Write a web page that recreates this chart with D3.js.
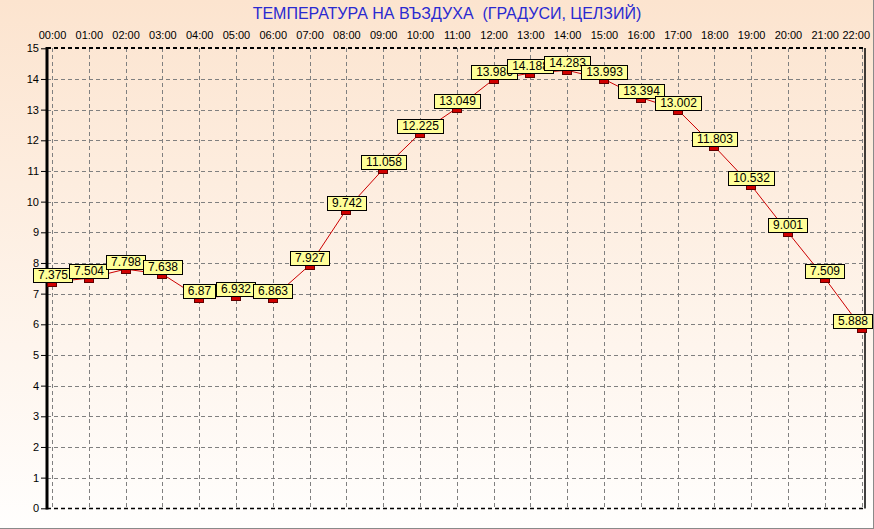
<!DOCTYPE html>
<html><head><meta charset="utf-8">
<script src="https://cdn.jsdelivr.net/npm/d3@7"></script>
<style>html,body{margin:0;padding:0;background:#fff;}svg{display:block;}</style>
</head><body>
<script>
const hours = ["00:00","01:00","02:00","03:00","04:00","05:00","06:00","07:00","08:00","09:00","10:00","11:00","12:00","13:00","14:00","15:00","16:00","17:00","18:00","19:00","20:00","21:00","22:00"];
const temps = [7.375,7.504,7.798,7.638,6.87,6.932,6.863,7.927,9.742,11.058,12.225,13.049,13.986,14.188,14.283,13.993,13.394,13.002,11.803,10.532,9.001,7.509,5.888];
const yTicks = [0,1,2,3,4,5,6,7,8,9,10,11,12,13,14,15];
const title = "ТЕМПЕРАТУРА НА ВЪЗДУХА  (ГРАДУСИ, ЦЕЛЗИЙ)";

const W = 874, H = 529;
const FONT = "Arial, 'Liberation Sans', sans-serif";
const svg = d3.select("body").append("svg").attr("width", W).attr("height", H);
const defs = svg.append("defs");
const g = defs.append("linearGradient").attr("id","bg").attr("x1",0).attr("y1",0).attr("x2",0).attr("y2",1);
g.append("stop").attr("offset","0%").attr("stop-color","#fce4cf");
g.append("stop").attr("offset","100%").attr("stop-color","#fffefd");
svg.append("rect").attr("width",W).attr("height",H).attr("fill","url(#bg)");
// outer frame
svg.append("line").attr("x1",873.5).attr("x2",873.5).attr("y1",0).attr("y2",529).attr("stroke","#8a8a8a");
svg.append("line").attr("x1",0).attr("x2",874).attr("y1",528.5).attr("y2",528.5).attr("stroke","#8a8a8a");

const plotL = 47, plotR = 865, plotT = 48, plotB = 508.5;
const x = d3.scaleLinear().domain([0,22]).range([52,861.5]);
const y = d3.scaleLinear().domain([0,15]).range([508.3,48.3]);

// grid
const grid = svg.append("g").attr("stroke","#808080").attr("stroke-dasharray","4,3").attr("stroke-width",1);
grid.selectAll(".v").data(hours).enter().append("line")
  .attr("x1",(d,i)=>Math.round(x(i))+0.5).attr("x2",(d,i)=>Math.round(x(i))+0.5)
  .attr("y1",plotT).attr("y2",plotB);
grid.selectAll(".h").data(yTicks.slice(1,-1)).enter().append("line")
  .attr("x1",plotL).attr("x2",plotR)
  .attr("y1",d=>Math.round(y(d))+0.5).attr("y2",d=>Math.round(y(d))+0.5);

// frame
svg.append("line").attr("x1",plotL).attr("x2",plotR).attr("y1",plotT).attr("y2",plotT)
  .attr("stroke","#000").attr("stroke-width",2).attr("stroke-dasharray","4,3");
svg.append("line").attr("x1",plotL).attr("x2",plotR).attr("y1",plotB).attr("y2",plotB)
  .attr("stroke","#000").attr("stroke-width",1.5).attr("stroke-dasharray","4,3");
svg.append("line").attr("x1",plotR).attr("x2",plotR).attr("y1",plotT).attr("y2",plotB)
  .attr("stroke","#000").attr("stroke-width",1.5);

// y axis
const yAxis = d3.axisLeft(y).tickValues(yTicks).tickSize(6).tickPadding(2).tickFormat(d3.format("d"));
const ya = svg.append("g").attr("transform",`translate(${plotL},0)`).call(yAxis);
ya.select(".domain").remove();
ya.selectAll("line").attr("stroke","#000");
ya.selectAll("text").attr("font-family",FONT).attr("font-size",11).attr("fill","#000");
svg.append("line").attr("x1",plotL).attr("x2",plotL).attr("y1",plotT-1).attr("y2",plotB+1)
  .attr("stroke","#000").attr("stroke-width",3);

// top axis labels
const xa = d3.axisTop(x).tickValues(d3.range(hours.length)).tickFormat(i=>hours[i]).tickSize(0).tickPadding(0);
const xg = svg.append("g").attr("transform","translate(0,39)").call(xa);
xg.select(".domain").remove();
xg.selectAll("text").attr("font-family",FONT).attr("font-size",11).attr("fill","#000").attr("dy",0)
  .each(function(){
    const t = d3.select(this);
    const w = this.getComputedTextLength();
    const tr = d3.select(this.parentNode).attr("transform");
    const tx = +tr.match(/translate\(([-\d.]+)/)[1];
    if (tx + w/2 > 870) t.attr("x", 870 - w/2 - tx);
  });

// title
svg.append("text").attr("x",447).attr("y",19).attr("text-anchor","middle")
  .attr("xml:space","preserve").style("white-space","pre")
  .attr("font-family",FONT).attr("font-size",16).attr("fill","#2a2ad0").text(title);

// line
svg.append("path").datum(temps)
  .attr("d", d3.line().x((d,i)=>x(i)).y(d=>y(d)))
  .attr("fill","none").attr("stroke","#cc0000").attr("stroke-width",1);

// markers
svg.selectAll(".mk").data(temps).enter().append("rect")
  .attr("x",(d,i)=>Math.round(x(i))-4.5).attr("y",d=>Math.round(y(d))+0.5)
  .attr("width",9).attr("height",4)
  .attr("fill","#d00000").attr("stroke","#600000").attr("stroke-width",1);

// labels
const lab = svg.selectAll(".lb").data(temps).enter().append("g");
lab.each(function(d,i){
  const gg = d3.select(this);
  const r = gg.append("rect");
  const t = gg.append("text").attr("font-family",FONT).attr("font-size",12)
    .attr("fill","#000").attr("text-anchor","middle").text(String(d));
  const tw = t.node().getComputedTextLength();
  const w = Math.round(tw + 9);
  const cx = x(i);
  let left = Math.round(cx - w/2);
  if (left + w > 872) left = 872 - w;
  const bottom = Math.round(y(d));
  r.attr("x",left+0.5).attr("y",bottom-14+0.5).attr("width",w).attr("height",14)
   .attr("fill","#ffff99").attr("stroke","#000").attr("stroke-width",1);
  t.attr("x",left + w/2 + 0.5).attr("y",bottom-3);
});
</script>
</body></html>
